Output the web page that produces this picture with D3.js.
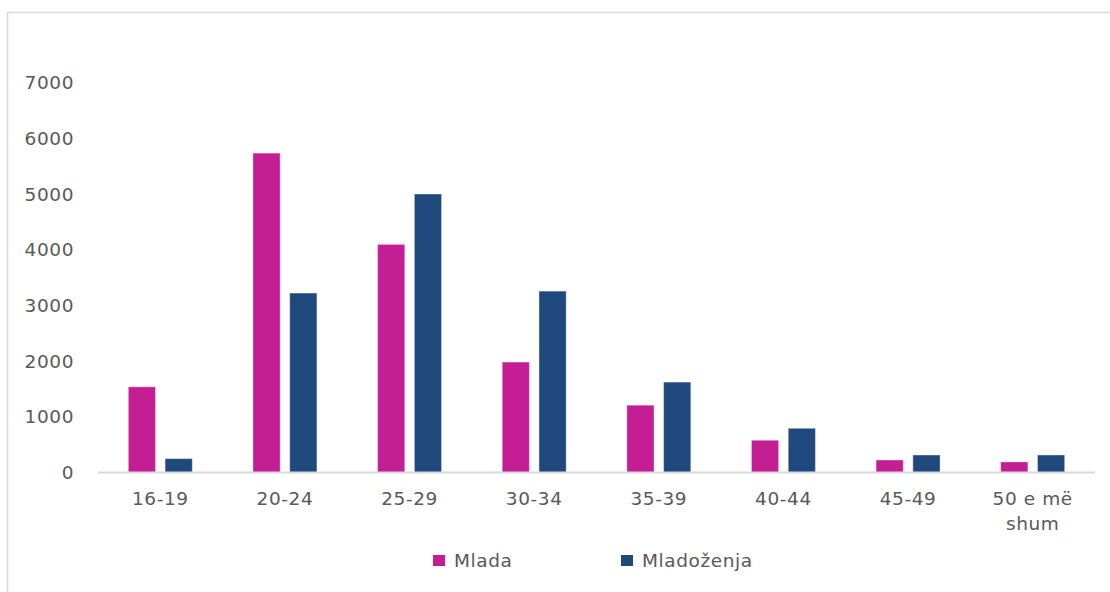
<!DOCTYPE html>
<html>
<head>
<meta charset="utf-8">
<title>Mlada / Mladoženja</title>
<script src="https://cdn.jsdelivr.net/npm/d3@7"></script>
<style>
  body { margin: 0; background: #fff; }
  text { font-family: "DejaVu Sans", sans-serif; fill: #595959; letter-spacing: 0.6px; }
</style>
</head>
<body>
<div id="chart"></div>
<script>
// data
const categories = ["16-19", "20-24", "25-29", "30-34", "35-39", "40-44", "45-49", "50 e më shum"];
const mlada      = [1540, 5740, 4100, 1985, 1210, 580, 225, 190];
const mladozenja = [250, 3225, 5005, 3260, 1625, 795, 315, 315];
const seriesNames = ["Mlada", "Mladoženja"];
const yTicks = [0, 1000, 2000, 3000, 4000, 5000, 6000, 7000];

const colors = ["#C41E95", "#1F497D"];
const fontSize = 18.5;

const W = 1110, H = 592;
const margin = {top: 83, right: 15, bottom: 120, left: 98};
const width = W - margin.left - margin.right;   // 997
const height = 472.5 - margin.top;

const svg = d3.select("#chart").append("svg")
    .attr("width", W)
    .attr("height", H);

// outer frame (only top + left visible in the crop)
svg.append("rect")
    .attr("x", 7.5).attr("y", 12.5)
    .attr("width", W + 10).attr("height", H + 10)
    .attr("fill", "none")
    .attr("stroke", "#d9d9d9")
    .attr("stroke-width", 1.5);

const g = svg.append("g")
    .attr("transform", "translate(" + margin.left + "," + margin.top + ")");

const x = d3.scaleBand().domain(categories).range([0, width]);
const x1 = d3.scaleBand().domain(seriesNames).range([0, 64]).paddingInner(0.26);
const y = d3.scaleLinear().domain([0, 7000]).range([height, 0]);

// y axis labels
const yAxis = g.append("g")
    .call(d3.axisLeft(y).tickValues(yTicks).tickFormat(d3.format("d")).tickSize(0).tickPadding(24));
yAxis.select(".domain").remove();
yAxis.selectAll("text")
    .attr("font-size", fontSize)
    .attr("font-family", "DejaVu Sans, sans-serif")
    .attr("fill", "#595959");

// bars
const rows = categories.map((c, i) => ({cat: c, values: [mlada[i], mladozenja[i]]}));
g.append("g").selectAll("g")
  .data(rows)
  .join("g")
    .attr("transform", d => "translate(" + (x(d.cat) + x.bandwidth() / 2 - 32) + ",0)")
  .selectAll("rect")
  .data(d => d.values.map((v, j) => ({key: seriesNames[j], v: v, j: j})))
  .join("rect")
    .attr("x", d => x1(d.key))
    .attr("y", d => y(d.v))
    .attr("width", x1.bandwidth())
    .attr("height", d => y(0) - y(d.v))
    .attr("fill", d => colors[d.j])
    .attr("stroke", "#ffffff")
    .attr("stroke-opacity", 0.4)
    .attr("stroke-width", 1);

// baseline
g.append("line")
    .attr("x1", 0).attr("x2", width)
    .attr("y1", y(0)).attr("y2", y(0))
    .attr("stroke", "#d9d9d9")
    .attr("stroke-width", 2);

// x labels (last one wraps)
const xl = g.append("g").selectAll("text")
  .data(categories)
  .join("text")
    .attr("x", d => x(d) + x.bandwidth() / 2)
    .attr("y", y(0) + 32)
    .attr("text-anchor", "middle")
    .attr("font-size", fontSize);
xl.each(function(d) {
  const t = d3.select(this);
  const parts = d === "50 e më shum" ? ["50 e më", "shum"] : [d];
  parts.forEach((p, k) => {
    t.append("tspan")
      .attr("x", x(d) + x.bandwidth() / 2)
      .attr("dy", k === 0 ? 0 : 25)
      .text(p);
  });
});

// legend
const legend = svg.append("g").attr("transform", "translate(433,555)");
const legX = [0, 188];
seriesNames.forEach((s, i) => {
  legend.append("rect")
    .attr("x", legX[i]).attr("y", 0)
    .attr("width", 12).attr("height", 11)
    .attr("fill", colors[i]);
  legend.append("text")
    .attr("x", legX[i] + 21).attr("y", 11.5)
    .attr("font-size", fontSize)
    .text(s);
});
</script>
</body>
</html>
